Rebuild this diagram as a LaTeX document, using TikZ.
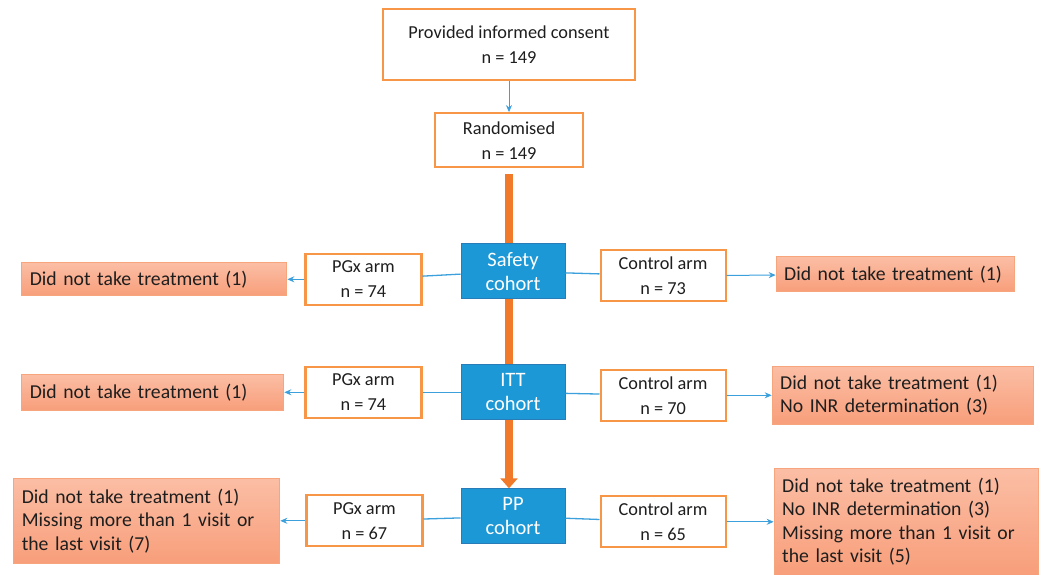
\documentclass[tikz,border=0pt]{standalone}
\usepackage{fontspec}
\setmainfont{Carlito}
\usetikzlibrary{arrows.meta, positioning, backgrounds}

\definecolor{boxorange}{RGB}{247,150,70}
\definecolor{cohortblue}{RGB}{28,152,214}
\definecolor{cohortedge}{RGB}{40,125,185}
\definecolor{salmontop}{RGB}{251,190,165}
\definecolor{salmonbot}{RGB}{248,158,122}
\definecolor{salmonedge}{RGB}{246,165,125}
\definecolor{barorange}{RGB}{240,122,42}
\definecolor{linkblue}{RGB}{60,160,220}
\definecolor{textgrey}{RGB}{30,30,30}

\newcommand{\boxfont}{\fontsize{18.3}{25}\selectfont}
\newcommand{\cohortfont}{\fontsize{20.5}{24}\selectfont}
\newcommand{\exclfont}{\fontsize{19.7}{23.5}\selectfont}

\begin{document}
\begin{tikzpicture}[
    x=1pt, y=1pt,
    box/.style={rectangle, draw=boxorange, line width=2.2pt, fill=white, text=textgrey, align=center, font=\boxfont, inner sep=2pt},
    arm/.style={box, minimum width=116pt, minimum height=51pt},
    ctrl/.style={box, minimum width=125pt, minimum height=51pt},
    cohort/.style={rectangle, draw=cohortedge, line width=1pt, fill=cohortblue, text=white, minimum width=104pt, minimum height=55pt, align=center, font=\cohortfont, inner sep=2pt, xshift=4pt},
    excl/.style={rectangle, draw=salmonedge, line width=1pt, top color=salmontop, bottom color=salmonbot, text=textgrey, align=left, font=\exclfont, inner xsep=8pt, inner ysep=2pt},
    link/.style={draw=linkblue, line width=1.3pt},
    arrow/.style={draw=linkblue, line width=1pt, -{Stealth[length=7pt, width=6pt]}},
    bigarrow/.style={draw=barorange, line width=8pt, -{Triangle[width=17pt, length=10pt]}}
]
\useasboundingbox (0,0) rectangle (1046,-574);

\node[box, minimum width=252pt, minimum height=71pt] (consent) at (509,-44.5) {Provided informed consent\\n = 149};
\node[box, minimum width=148pt, minimum height=54pt, below=31pt of consent] (randomised) {Randomised\\n = 149};
\node[cohort, below=75pt of randomised] (safety) {Safety\\cohort};
\node[cohort, below=65pt of safety, xshift=-4pt] (itt) {ITT\\cohort};
\node[cohort, below=68pt of itt, xshift=-4pt] (pp) {PP\\cohort};

% safety cohort
\node[arm, left=38pt of safety, yshift=-8pt] (pgxsafety) {PGx arm\\n = 74};
\node[ctrl, right=34pt of safety, yshift=-4.5pt] (ctrlsafety) {Control arm\\n = 73};
\node[excl, text width=249pt, minimum height=33pt, left=17pt of pgxsafety] (outpgxsafety) {Did not take treatment (1)};
\node[excl, text width=222pt, minimum height=35pt, right=49pt of ctrlsafety, yshift=1.5pt] (outctrlsafety) {Did not take treatment (1)};

% ITT cohort
\node[arm, left=38pt of itt] (pgxitt) {PGx arm\\n = 74};
\node[ctrl, right=34pt of itt, yshift=-3pt] (ctrlitt) {Control arm\\n = 70};
\node[excl, text width=246pt, minimum height=36pt, left=20pt of pgxitt] (outpgxitt) {Did not take treatment (1)};
\node[excl, text width=245pt, minimum height=58pt, right=45pt of ctrlitt] (outctrlitt) {Did not take treatment (1)\\No INR determination (3)};

% PP cohort
\node[arm, left=37pt of pp, yshift=-4.5pt] (pgxpp) {PGx arm\\n = 67};
\node[ctrl, right=34pt of pp, yshift=-5.5pt] (ctrlpp) {Control arm\\n = 65};
\node[excl, text width=250pt, minimum height=85pt, left=25pt of pgxpp] (outpgxpp) {Did not take treatment (1)\\Missing more than 1 visit or\\the last visit (7)};
\node[excl, text width=248pt, minimum height=107pt, right=47pt of ctrlpp] (outctrlpp) {Did not take treatment (1)\\No INR determination (3)\\Missing more than 1 visit or\\the last visit (5)};

\begin{scope}[on background layer]
\draw[bigarrow, shorten <=6pt] (randomised) -- (randomised |- pp.north);
\end{scope}

\draw[arrow] (consent) -- (randomised);

\draw[link] (pgxsafety) -- (safety);
\draw[link] (safety) -- (ctrlsafety);
\draw[link] (pgxitt) -- (itt);
\draw[link] (itt) -- (ctrlitt);
\draw[link] (pgxpp) -- (pp);
\draw[link] (pp) -- (ctrlpp);

\draw[arrow] (pgxsafety) -- (outpgxsafety);
\draw[arrow] (ctrlsafety) -- (outctrlsafety);
\draw[arrow] (pgxitt) -- (outpgxitt);
\draw[arrow] (ctrlitt) -- (outctrlitt);
\draw[arrow] (pgxpp) -- (outpgxpp);
\draw[arrow] (ctrlpp) -- (outctrlpp);

\end{tikzpicture}
\end{document}
